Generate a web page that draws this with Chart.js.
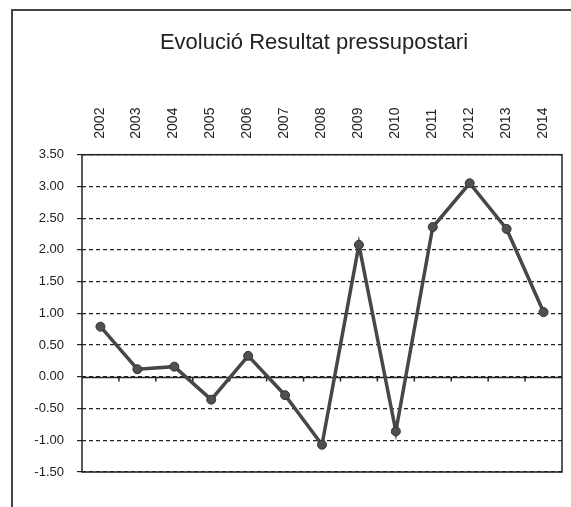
<!DOCTYPE html>
<html>
<head>
<meta charset="utf-8">
<title>Evolució Resultat pressupostari</title>
<script src="https://cdn.jsdelivr.net/npm/chart.js@4"></script>
<style>
    html, body { margin: 0; padding: 0; background: #fff; }
    #wrap { position: relative; width: 571px; height: 507px; }
</style>
</head>
<body>
<div id="wrap"><canvas id="resultChart" width="571" height="507"></canvas></div>
<script>
// Data
const years = ["2002", "2003", "2004", "2005", "2006", "2007", "2008", "2009", "2010", "2011", "2012", "2013", "2014"];
const resultat = [0.79, 0.12, 0.16, -0.36, 0.33, -0.29, -1.07, 2.08, -0.86, 2.36, 3.05, 2.33, 1.02];
const yMin = -1.5;
const yMax = 3.5;
const yStep = 0.5;

// Frame, solid zero line and the little category ticks on it (Excel style)
const excelFrame = {
    id: 'excelFrame',
    afterLayout(chart) {
        // the original title sits a bit left of the canvas centre
        if (chart.titleBlock) chart.titleBlock.left = 66;
    },
    beforeDraw(chart) {
        const ctx = chart.ctx;
        ctx.save();
        ctx.strokeStyle = '#444';
        ctx.lineWidth = 2;
        ctx.beginPath();
        ctx.moveTo(12, 507);
        ctx.lineTo(12, 10);
        ctx.lineTo(571, 10);
        ctx.stroke();
        ctx.restore();
    },
    beforeDatasetsDraw(chart) {
        const ctx = chart.ctx;
        const area = chart.chartArea;
        const x = chart.scales.x;
        const y = chart.scales.y;
        const zeroY = Math.round(y.getPixelForValue(0)) + 0.5;
        ctx.save();
        ctx.strokeStyle = '#222';
        ctx.lineWidth = 1.5;
        ctx.strokeRect(area.left, area.top, area.right - area.left, area.bottom - area.top);
        ctx.beginPath();
        ctx.moveTo(area.left, zeroY);
        ctx.lineTo(area.right, zeroY);
        for (let i = 1; i < years.length; i++) {
            const bx = (x.getPixelForValue(i - 1) + x.getPixelForValue(i)) / 2;
            ctx.moveTo(bx, zeroY);
            ctx.lineTo(bx, zeroY + 4);
        }
        ctx.stroke();
        ctx.restore();
    }
};

new Chart(document.getElementById('resultChart'), {
    type: 'line',
    data: {
        labels: years,
        datasets: [{
            label: 'Resultat pressupostari',
            data: resultat,
            borderColor: '#474747',
            borderWidth: 3.5,
            backgroundColor: '#505050',
            pointBackgroundColor: '#505050',
            pointBorderColor: '#333',
            pointBorderWidth: 1,
            pointRadius: 4.5,
            tension: 0
        }]
    },
    options: {
        responsive: false,
        animation: false,
        layout: {
            padding: { left: 10, right: 9, top: 0, bottom: 35 }
        },
        plugins: {
            legend: { display: false },
            tooltip: { enabled: false },
            title: {
                display: true,
                text: 'Evolució Resultat pressupostari',
                color: '#222',
                font: { family: 'Liberation Sans', size: 22, weight: 'normal' },
                padding: { top: 30, bottom: 0 }
            }
        },
        scales: {
            x: {
                position: 'top',
                offset: true,
                grid: { display: false, drawTicks: false },
                border: { display: false },
                ticks: {
                    minRotation: 90,
                    maxRotation: 90,
                    padding: 16,
                    labelOffset: 16,
                    color: '#222',
                    font: { family: 'Liberation Sans', size: 14 }
                },
                afterFit(scale) { scale.height = 98.3; }
            },
            y: {
                min: yMin,
                max: yMax,
                grid: {
                    color: '#222',
                    lineWidth: 1.2,
                    tickLength: 5,
                    tickColor: '#222'
                },
                border: { display: false, dash: [4, 3] },
                ticks: {
                    stepSize: yStep,
                    padding: 13,
                    color: '#222',
                    font: { family: 'Liberation Sans', size: 13 },
                    callback: (v) => Number(v).toFixed(2)
                },
                afterFit(scale) { scale.width = 72; }
            }
        }
    },
    plugins: [excelFrame]
});
</script>
</body>
</html>
